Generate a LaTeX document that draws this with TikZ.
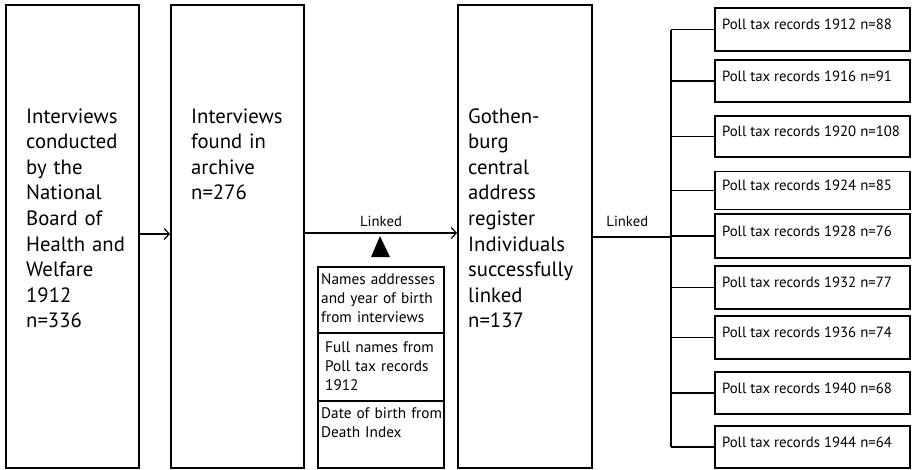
\documentclass[tikz,border=0pt]{standalone}
\usepackage{fontspec}
\setmainfont{PT Sans}
\usetikzlibrary{arrows.meta}
\newcommand{\polltext}[1]{\makebox[181pt][l]{#1}}
\begin{document}
\begin{tikzpicture}[x=1pt,y=-1pt,
  bigbox/.style={draw, line width=2pt, minimum width=133pt, minimum height=463pt, inner sep=0pt},
  bigtext/.style={font=\fontsize{20.7}{25.6}\selectfont, text width=150pt, align=left, inner sep=0pt, anchor=base west},
  stackbox/.style={draw, line width=1.8pt, minimum width=126pt, inner sep=0pt},
  smalltext/.style={font=\fontsize{15.3}{19}\selectfont, text width=140pt, align=left, inner sep=0pt, anchor=base west},
  pollbox/.style={draw, line width=1.8pt, minimum width=195pt, inner xsep=7pt, inner ysep=0pt, font=\fontsize{14.8}{17}\selectfont, text height=9pt, text depth=9pt},
  linktext/.style={font=\fontsize{14.7}{17}\selectfont, inner sep=0pt},
  conn/.style={line width=1.2pt},
  arr/.style={conn, -{Straight Barb[length=5pt,width=11pt]}}
]
\useasboundingbox (0,0) rectangle (912,469);

% big boxes
\node[bigbox] (b1) at (72.5,236.5) {};
\node[bigbox] (b2) at (237.5,236.5) {};
\node[bigbox, minimum width=134pt] (b3) at (525,236.5) {};

\node[bigtext] (t1) at (26,123) {Interviews\\conducted\\by the\\National\\Board of\\Health and\\Welfare\\1912\\n=336};
\node[bigtext] (t2) at (191,123) {Interviews\\found in\\archive\\n=276};
\node[bigtext] (t3) at (468,123) {Gothen-\\burg\\central\\address\\register\\Individuals\\successfully\\linked\\n=137};

% stack of sources
\node[stackbox, minimum height=66pt] (s1) at (381,300) {};
\node[stackbox, minimum height=68pt] (s2) at (381,367) {};
\node[stackbox, minimum height=67pt] (s3) at (381,434.5) {};
\node[smalltext] (u1) at (321,284) {Names addresses\\and year of birth\\from interviews};
\node[smalltext] (u2) at (325,352) {Full names from\\Poll tax records\\1912};
\node[smalltext] (u3) at (321,418) {Date of birth from\\Death Index};

\fill ([xshift=-10pt,yshift=9pt]s1.north) -- ([xshift=9pt,yshift=9pt]s1.north) -- ([xshift=-1pt,yshift=30pt]s1.north) -- cycle;

% arrows
\draw[arr] ([yshift=2.5pt]b1.east) -- ([yshift=2.5pt]b2.west);
\draw[arr] ([yshift=3.5pt]b2.east) -- node[linktext, midway, above=6pt] (l1) {Linked} ([yshift=3.5pt]b3.west);

% poll tax boxes
\node[pollbox, minimum height=43pt] (p1) at (812.5,29.5) {\polltext{Poll tax records 1912 n=88}};
\node[pollbox, minimum height=42pt] (p2) at (812.5,81) {\polltext{Poll tax records 1916 n=91}};
\node[pollbox, minimum height=41pt] (p3) at (812.5,136.5) {\polltext{Poll tax records 1920 n=108}};
\node[pollbox, minimum height=38pt] (p4) at (812.5,190.5) {\polltext{Poll tax records 1924 n=85}};
\node[pollbox, minimum height=44pt] (p5) at (812.5,236) {\polltext{Poll tax records 1928 n=76}};
\node[pollbox, minimum height=43pt] (p6) at (812.5,287.5) {\polltext{Poll tax records 1932 n=77}};
\node[pollbox, minimum height=43pt] (p7) at (812.5,337.5) {\polltext{Poll tax records 1936 n=74}};
\node[pollbox, minimum height=42pt] (p8) at (812.5,393) {\polltext{Poll tax records 1940 n=68}};
\node[pollbox, minimum height=42pt] (p9) at (812.5,447) {\polltext{Poll tax records 1944 n=64}};

\coordinate (j) at (671,237);
\draw[conn] (b3.east |- j) -- node[linktext, pos=0.44, above=10pt] (l2) {Linked} (j);
\draw[conn] (p1.west -| j) -- (p9.west -| j);
\foreach \i in {1,...,9} \draw[conn] (p\i.west -| j) -- (p\i.west);
\end{tikzpicture}
\end{document}
